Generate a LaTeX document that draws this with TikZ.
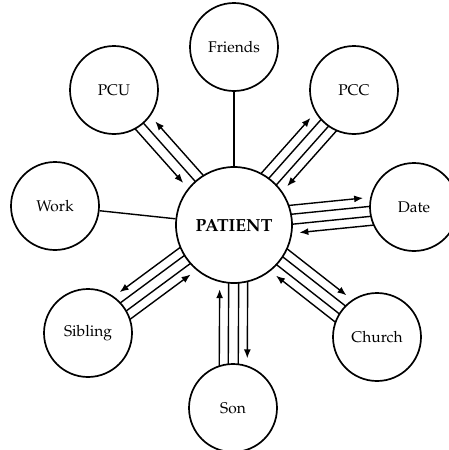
\documentclass[tikz,border=0pt]{standalone}
\usepackage[T1]{fontenc}
\usepackage{mathpazo}
\usetikzlibrary{arrows.meta,calc}

\tikzset{
  member/.style={draw, circle, line width=1.7pt, minimum size=88pt, inner sep=0pt,
    font=\fontsize{15.5}{18}\selectfont},
  patient/.style={member, minimum size=116pt, font=\fontsize{17.5}{20}\selectfont\bfseries},
  tie/.style={line width=1.4pt},
  tosat/.style={tie, -{Latex[length=9pt,width=7pt]}},
  topat/.style={tie, {Latex[length=9pt,width=7pt]}-},
}

% one strand of a bundle: {member}{offset}{style}{gap at patient}{gap at member}
\newcommand{\strand}[5]{%
  \pgfmathsetlengthmacro\sa{(sqrt(58^2-(#2)^2)+#4)*1pt}%
  \pgfmathsetlengthmacro\sb{(sqrt(44^2-(#2)^2)+#5)*1pt}%
  \draw[#3, shorten <=\sa, shorten >=\sb]
    ($(pat)!#2pt!90:(#1)$) -- ($(#1)!#2pt!-90:(pat)$);}

\begin{document}
\begin{tikzpicture}[x=1pt, y=-1pt]
  \useasboundingbox (0,0) rectangle (449,450);

  \node[patient] (pat) at (234,225) {PATIENT};

  \node[member] (friends) at (234,47) {Friends};
  \node[member] (pcu) at (114,90) {PCU};
  \node[member] (pcc) at (354,90) {PCC};
  \node[member] (work) at (55,206) {Work};
  \node[member] (date) at (414,207) {Date};
  \node[member] (sib) at (88,333) {Sibling};
  \node[member] (church) at (377,337) {Church};
  \node[member] (son) at (233,408) {Son};

  % single ties
  \draw[tie] (friends) -- (pat);
  \draw[tie] (work) -- (pat);

  % bundles of four
  \foreach \s/\k in {pcc/1, date/1, church/1, son/1, sib/-1}{
    \pgfmathsetmacro\off{\k*14}
    \pgfmathsetmacro\offb{-\k*14}
    \strand{\s}{-5}{tie}{0}{0}
    \strand{\s}{5}{tie}{0}{0}
    \strand{\s}{\off}{tosat}{0}{8}
    \strand{\s}{\offb}{topat}{8}{0}
  }

  % PCU has three
  \strand{pcu}{0}{tie}{0}{0}
  \strand{pcu}{-10}{tosat}{0}{8}
  \strand{pcu}{10}{topat}{8}{0}
\end{tikzpicture}
\end{document}
